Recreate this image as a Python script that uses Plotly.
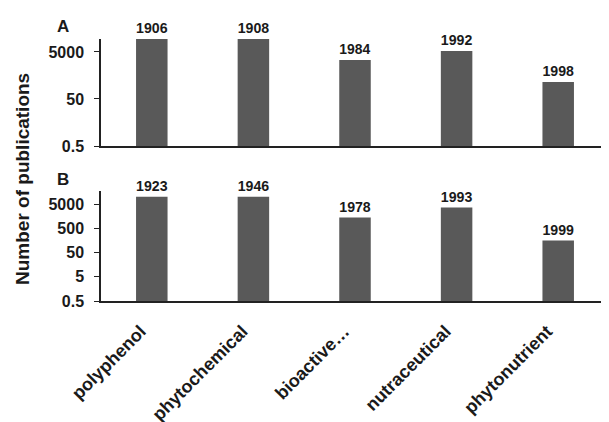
import plotly.graph_objects as go
import math

categories = ["polyphenol", "phytochemical", "bioactive…", "nutraceutical", "phytonutrient"]
counts_a = [17700, 17700, 2285, 5520, 264]
years_a = ["1906", "1908", "1984", "1992", "1998"]
counts_b = [10200, 10400, 1440, 3720, 161]
years_b = ["1923", "1946", "1978", "1993", "1999"]
ticks_a = [0.5, 50, 5000]
ticks_b = [0.5, 5, 50, 500, 5000]

W, H = 609, 422
OFF = 8  # page body margin offset
ML, MR = 101 - OFF, OFF
FONT = "Liberation Sans, Arial, sans-serif"
BAR = "#595959"
TXT = "#1a1a1a"

fig = go.Figure()
for cnt, yrs, xa, ya in [(counts_a, years_a, "x", "y"), (counts_b, years_b, "x2", "y2")]:
    fig.add_trace(go.Bar(x=categories, y=cnt, text=yrs, textposition="outside",
                         marker=dict(color=BAR, line=dict(width=0)), width=0.31,
                         cliponaxis=False, xaxis=xa, yaxis=ya,
                         textfont=dict(family=FONT, size=15, color=TXT, weight="bold")))

yrange = [math.log10(0.5), 4.25]
axis_common = dict(showgrid=False, zeroline=False, showline=True, linecolor="#222",
                   linewidth=1.5, automargin=False)

def py(p):
    return 1 - (p - OFF) / H

ytick_common = dict(ticks="outside", ticklen=5, tickcolor="#222", ticklabelstandoff=7,
                    tickfont=dict(family=FONT, size=16, color=TXT, weight="bold"))

fig.update_layout(
    width=W, height=H,
    margin=dict(l=ML, r=MR, t=0, b=0),
    plot_bgcolor="white", paper_bgcolor="white",
    showlegend=False,
    font=dict(family=FONT, color=TXT),
    xaxis=dict(domain=[0, 1], anchor="y", showticklabels=False, ticks="",
               range=[-0.5, 4.5], **axis_common),
    yaxis=dict(domain=[py(146), py(39)], anchor="x", type="log", range=yrange,
               tickvals=ticks_a, ticktext=[str(v) for v in ticks_a],
               **ytick_common, **axis_common),
    xaxis2=dict(domain=[0, 1], anchor="y2", ticks="", tickangle=-45, range=[-0.5, 4.5],
                ticklabelstandoff=11, ticklabelshift=-11,
                tickfont=dict(family=FONT, size=18, color=TXT, weight="bold"),
                **axis_common),
    yaxis2=dict(domain=[py(301), py(191)], anchor="x2", type="log", range=yrange,
                tickvals=ticks_b, ticktext=[str(v) for v in ticks_b],
                **ytick_common, **axis_common),
)

pw = W - ML - MR
def px(p):
    return (p - OFF - ML) / pw

ann = dict(xref="paper", yref="paper", showarrow=False, xanchor="center", yanchor="middle")
fig.add_annotation(text="<b>Number of publications</b>", x=px(22), y=py(179), textangle=-90,
                   font=dict(family=FONT, size=19, color=TXT), **ann)
fig.add_annotation(text="<b>A</b>", x=px(63), y=py(26),
                   font=dict(family=FONT, size=17, color=TXT), **ann)
fig.add_annotation(text="<b>B</b>", x=px(63), y=py(179),
                   font=dict(family=FONT, size=17, color=TXT), **ann)

fig.write_html("out.html")
